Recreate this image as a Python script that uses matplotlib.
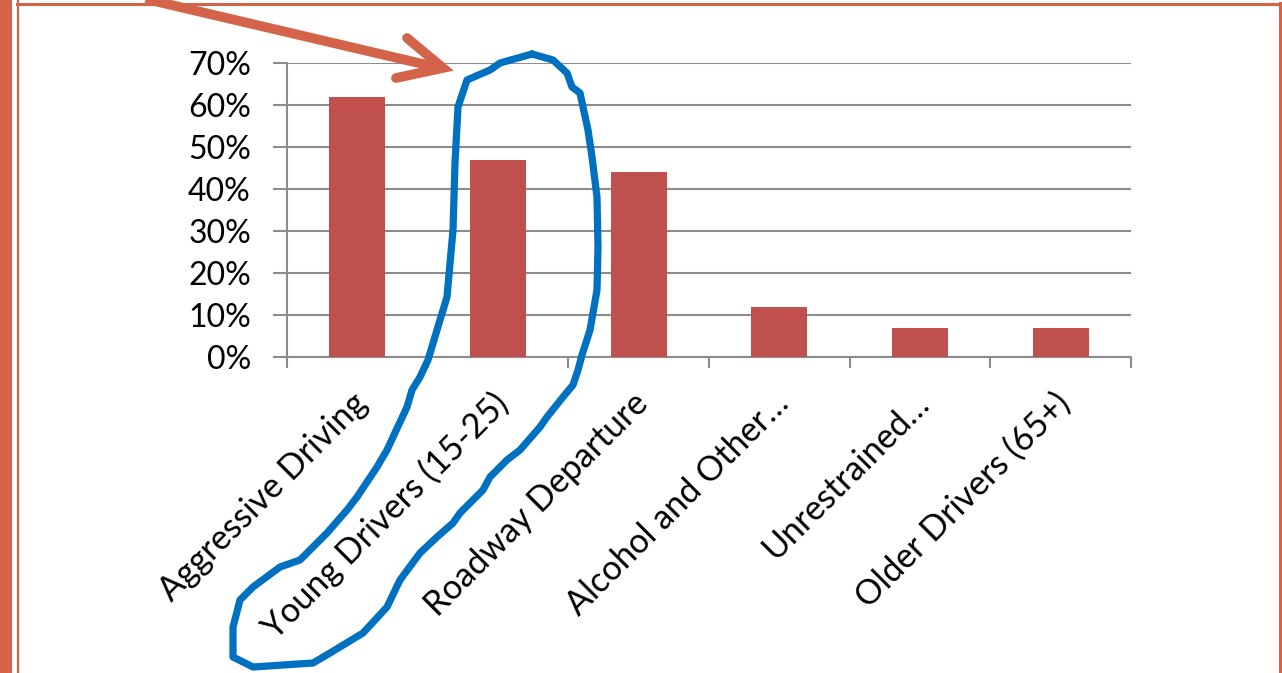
import matplotlib.pyplot as plt
import matplotlib.transforms as mtransforms
from matplotlib.lines import Line2D
from matplotlib.patches import Rectangle

W = 1282
H = 673

categories = ["Aggressive Driving", "Young Drivers (15-25)", "Roadway Departure",
              "Alcohol and Other\u2026", "Unrestrained\u2026", "Older Drivers (65+)"]
values = [62, 47, 44, 12, 7, 7]
yticks = [0, 10, 20, 30, 40, 50, 60, 70]
ytickLabels = ["%d%%" % v for v in yticks]

BAR_COLOR = "#C0504D"
GRID_COLOR = "#8C8C8C"
FRAME_COLOR = "#D3644A"
LOOP_COLOR = "#0070C0"

plt.rcParams['font.family'] = ['Lato', 'DejaVu Sans']

fig = plt.figure(figsize=(W / 100, H / 100), dpi=100)
ax = fig.add_axes([287 / W, 1 - 357 / H, (1131 - 287) / W, (357 - 63) / H])

x = list(range(len(categories)))
ax.bar(x, values, width=0.4, color=BAR_COLOR, zorder=3)

ax.set_xlim(-0.5, len(categories) - 0.5)
ax.set_ylim(0, 70)
ax.set_yticks(yticks)
ax.set_yticklabels(ytickLabels, fontsize=23)
ax.yaxis.grid(True, color=GRID_COLOR, linewidth=1.5, zorder=0)
ax.tick_params(axis='y', length=10, width=1.5, color=GRID_COLOR, pad=16)

# category boundaries carry the x tick marks
ax.set_xticks([i - 0.5 for i in range(len(categories) + 1)])
ax.set_xticklabels([])
ax.tick_params(axis='x', length=8, width=1.5, color=GRID_COLOR)

for side in ['top', 'right']:
    ax.spines[side].set_visible(False)
for side in ['left', 'bottom']:
    ax.spines[side].set_color(GRID_COLOR)
    ax.spines[side].set_linewidth(1.5)

labelTransform = mtransforms.offset_copy(ax.get_xaxis_transform(), fig=fig, x=-7, y=-30, units='dots')
for i, name in enumerate(categories):
    ax.text(i, 0, name, transform=labelTransform, rotation=45, rotation_mode='anchor',
            ha='right', va='top', fontsize=24.5, color='black')


def px(points):
    return [p[0] / W for p in points], [1 - p[1] / H for p in points]


def addLine(points, color, lw, **kw):
    xs, ys = px(points)
    fig.add_artist(Line2D(xs, ys, transform=fig.transFigure, color=color, linewidth=lw, **kw))


# slide frame
fig.add_artist(Rectangle((0, 0), 12 / W, 1, transform=fig.transFigure, color=FRAME_COLOR, lw=0))
addLine([(18, 0), (18, H)], FRAME_COLOR, 1.6)
addLine([(17, 3.5), (W, 3.5)], FRAME_COLOR, 2.2)
addLine([(1280, 3), (1280, H)], FRAME_COLOR, 2.2)

# arrow pointing at the highlighted group
addLine([(120, -7), (440, 68)], FRAME_COLOR, 7, solid_capstyle='butt')
addLine([(407, 38), (443, 68), (396, 78)], FRAME_COLOR, 7,
        solid_capstyle='round', solid_joinstyle='miter')

# hand drawn loop
loop = [(532, 54), (553, 60), (567, 73), (572, 87), (580, 93), (588, 130), (592, 157),
        (597, 197), (598, 247), (597, 290), (590, 330), (582, 355), (578, 370), (573, 385),
        (563, 397), (547, 417), (540, 427), (520, 450), (507, 460), (490, 477), (483, 490),
        (460, 513), (453, 523), (437, 537), (420, 553), (400, 580), (387, 607), (363, 633),
        (330, 653), (313, 663), (253, 667), (233, 657), (233, 627), (240, 600), (253, 587),
        (280, 567), (300, 560), (310, 550), (327, 533), (347, 510), (357, 497), (377, 467),
        (387, 450), (407, 407), (412, 390), (420, 377), (428, 360), (437, 330), (447, 297),
        (453, 230), (455, 163), (458, 107), (467, 80), (490, 70), (500, 63), (532, 54)]
addLine(loop, LOOP_COLOR, 5.2, solid_joinstyle='round', solid_capstyle='round')

fig.savefig("out.png", dpi=100)
